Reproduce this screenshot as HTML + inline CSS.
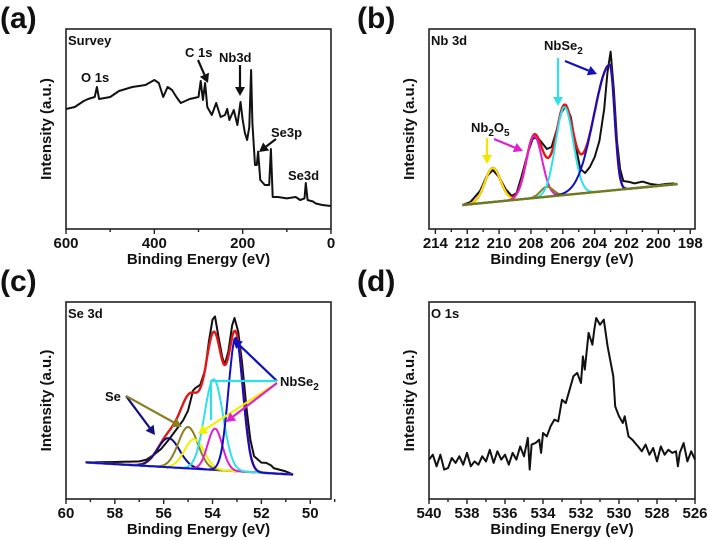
<!DOCTYPE html>
<html><head><meta charset="utf-8"><style>
html,body{margin:0;padding:0;background:#fff;}
svg{display:block;font-family:"Liberation Sans",sans-serif;}
.t{font-weight:bold;fill:#111;}
</style></head><body>
<svg id="fig" width="708" height="540" viewBox="0 0 708 540" xmlns="http://www.w3.org/2000/svg"></svg>
<script>
// ---- Panel (a) survey data: binding energy (eV) and intensity (% of frame)
const surveyE = [600,580,560,550,535,530,525,500,480,450,420,400,390,380,370,360,350,340,320,300,295,290,285,280,270,260,250,240,235,230,220,212,205,200,195,190,185,181,178,172,168,165,160,150,140,136,132,120,100,80,70,60,57,53,40,35,20,0];
const surveyI = [60,61,64,65,66,71,65,66,69,71,72,74.5,73,66,71,69.5,66,63,65,66,74,64.5,73,61,57,63,56,57,60,54.5,59.5,52,63.5,54.5,48,44.5,51,79.5,53,32,32,38.7,24.5,22,22,40,16,16,15.3,16,14.5,15.3,23,14.5,13.7,12.8,12,11.5];
const surveyTicks = [600,500,400,300,200,100,0];
const surveyTickLabels = ["600","","400","","200","","0"];
// ---- Panel (b) Nb 3d
const nbE = [212.3,211.8,211.2,210.8,210.4,210.0,209.6,209.2,208.9,208.6,208.2,207.9,207.6,207.3,207.0,206.7,206.4,206.1,205.8,205.5,205.2,204.9,204.6,204.3,204.0,203.7,203.4,203.2,203.0,202.8,202.6,202.4,202.2,201.8,201.5,201.0,200.5,200.0,199.5,199.0];
const nbI = [12,13.5,19,26,29.5,26,20,16.5,18,26,38,45,46,43,40,41,49,58,62,56,42,30,28,31,36,44,60,78,88.7,70,44,30,24,23.5,22.8,23.7,22.5,22,22.5,22.8];
const nbBase = [[212.3,12],[198.8,22.5]];
const nbCenters = [210.4,207.8,207.0,205.9,203.05];
const nbHeights = [17,31,5,44,63];
const nbSigL = [0.5,0.5,0.4,0.55,1.0];
const nbSigR = [0.5,0.5,0.4,0.55,0.3];
const nbColors = ["#f2e600","#e020d0","#8a7d20","#30e0e8","#1010c0"];
const nbTicks = [214,213,212,211,210,209,208,207,206,205,204,203,202,201,200,199,198];
const nbTickLabels = ["214","","212","","210","","208","","206","","204","","202","","200","","198"];
// ---- Panel (c) Se 3d
const seE = [59.2,58,57,56.7,56.4,56.1,55.8,55.5,55.2,55,54.9,54.8,54.7,54.5,54.3,54.15,54,53.9,53.75,53.6,53.5,53.35,53.2,53.1,52.95,52.8,52.6,52.45,52.3,52.0,51.8,51.6,51.5,51,50.7];
const seI = [18.6,18.8,19.1,20,22.5,25.5,30,35,40,45,50,55,56.3,58,65.7,80,91,92.7,82,72,68.2,75,88,91.9,85,70,45.3,30,21.7,18.5,18.3,17,15.7,14,12.4];
const seBase = [[59.2,18.6],[50.7,12.4]];
const seCenters = [55.8,55.0,54.75,53.9,53.95,53.05];
const seHeights = [14.8,21,15,21,46,67.7];
const seSig = [0.45,0.4,0.4,0.3,0.38,0.3];
const seColors = ["#101080","#8a8020","#f0f000","#e020d0","#30e0e8","#1010c0"];
const seTicks = [60,59,58,57,56,55,54,53,52,51,50,49];
const seTickLabels = ["60","","58","","56","","54","","52","","50",""];
// ---- Panel (d) O 1s
const oE = [540,539.8,539.6,539.4,539.2,539,538.8,538.6,538.4,538.2,538,537.8,537.6,537.4,537.2,537,536.8,536.6,536.4,536.2,536,535.8,535.6,535.4,535.2,535,534.8,534.7,534.6,534.4,534.2,534.1,534,533.8,533.6,533.4,533.2,533,532.8,532.6,532.4,532.2,532,531.9,531.8,531.6,531.4,531.3,531.2,531,530.8,530.6,530.4,530.3,530.2,530,529.8,529.7,529.5,529.3,529,528.8,528.6,528.4,528.2,528,527.8,527.6,527.4,527.2,527,526.9,526.8,526.6,526.4,526.2,526];
const oI = [20,22.5,16.6,22.5,14.9,15.7,20.8,18.3,21.7,17.4,23.4,16.6,19.1,17.4,21.7,19.1,25,18.3,24.2,20,22.5,17.4,23.4,20,26.7,21.7,31,14.9,27.6,28.4,30.1,23.4,33.5,31.8,36.9,40.3,39.4,50.4,48.7,55.5,62.3,64,58.9,72.4,65.7,84.3,78.3,86,91.9,88.5,91,77.5,67.3,62.3,47,42,38.6,42,31.8,30.1,26.7,24.2,27.6,22.5,25.9,19.1,26.7,22.5,25,23.4,24.2,16.6,23.4,28.4,19.1,24.2,20];
const oTicks = [540,539,538,537,536,535,534,533,532,531,530,529,528,527,526];
const oTickLabels = ["540","","538","","536","","534","","532","","530","","528","","526"];

const NS="http://www.w3.org/2000/svg";
const svg=document.getElementById('fig');
function mk(tag,attrs,parent){const e=document.createElementNS(NS,tag);for(const k in attrs)e.setAttribute(k,attrs[k]);(parent||svg).appendChild(e);return e;}
function txt(x,y,s,size,parent,anchor){const e=mk('text',{x:x,y:y,'font-size':size,'text-anchor':anchor||'start',class:'t'},parent);e.textContent=s;return e;}

function panel(name,box,eMax,eMin,ticks,labels,label,labelPos,tag){
  const g=mk('g',{});
  
  
  const sx=e=>box.x0+(eMax-e)/(eMax-eMin)*(box.x1-box.x0);
  const sy=v=>box.y1-v/100*(box.y1-box.y0);
  const fr=mk('rect',{x:box.x0,y:box.y0,width:box.x1-box.x0,height:box.y1-box.y0,fill:'none',stroke:'#222','stroke-width':1.6},g);
  
  
  ticks.forEach((t,i)=>{
    const x=sx(t);const major=labels[i]!=="";
    const tk=mk('line',{x1:x,x2:x,y1:box.y1,y2:box.y1+(major?5:3),stroke:'#222','stroke-width':1.4},g);
    
    
    if(major){const l=txt(x,box.y1+19,labels[i],15,g,'middle');
      
      }
  });
  const xt=txt((box.x0+box.x1)/2,box.y1+35,"Binding Energy (eV)",15,g,'middle');
  
  
  const yc=(box.y0+box.y1)/2;
  const yt=txt(0,0,"Intensity (a.u.)",15,g,'middle');
  yt.setAttribute('transform','translate('+(box.x0-15)+','+yc+') rotate(-90)');
  
  
  const pl=txt(labelPos[0],labelPos[1],label,30,g);
  pl.setAttribute('font-weight','normal');
  
  
  const tg=txt(box.x0+2,box.y0+16,tag,13,g);
  
  
  return {g,sx,sy};
}
function poly(p,E,I,color,w,name){
  const pts=E.map((e,i)=>p.sx(e).toFixed(1)+','+p.sy(I[i]).toFixed(1)).join(' ');
  const l=mk('polyline',{points:pts,fill:'none',stroke:color,'stroke-width':w,'stroke-linejoin':'round'},p.g);
  
  
  return l;
}
function arrow(g,x1,y1,x2,y2,color,name){
  const a=Math.atan2(y2-y1,x2-x1),L=9,W=5;
  const bx=x2-L*Math.cos(a),by=y2-L*Math.sin(a);
  const grp=mk('g',{},g);
  
  
  mk('line',{x1:x1,y1:y1,x2:bx,y2:by,stroke:color,'stroke-width':2.2},grp);
  mk('polygon',{points:x2+','+y2+' '+(bx+W*Math.sin(a))+','+(by-W*Math.cos(a))+' '+(bx-W*Math.sin(a))+','+(by+W*Math.cos(a)),fill:color},grp);
}
function baseAt(base,e){const [a,b]=base;return a[1]+(e-a[0])/(b[0]-a[0])*(b[1]-a[1]);}
function range(a,b,n){const r=[];for(let i=0;i<=n;i++)r.push(a+(b-a)*i/n);return r;}

// ---- (a)
const pa=panel('panel-a-survey',{x0:66,x1:331,y0:29,y1:229},600,0,surveyTicks,surveyTickLabels,'(a)',[0,28],'Survey');
poly(pa,surveyE,surveyI,'#111',2,'survey-spectrum');
[['O 1s',81,82],['C 1s',185,57],['Nb3d',219,62],['Se3p',271,137],['Se3d',288,180]].forEach(l=>{const t=txt(l[1],l[2],l[0],13,pa.g);
  
  });
arrow(pa.g,198,60,208,83,'#111','c1s-arrow');
arrow(pa.g,240,65,240,96,'#111','nb3d-arrow');
arrow(pa.g,276,139,259,152,'#111','se3p-arrow');

// ---- (b)
const pb=panel('panel-b-nb3d',{x0:429,x1:695,y0:29,y1:229},214.4,197.7,nbTicks,nbTickLabels,'(b)',[357,28],'Nb 3d');
const bE=range(212.3,198.8,300);
function nbComp(k,e){const s=e>nbCenters[k]?nbSigL[k]:nbSigR[k];return nbHeights[k]*Math.exp(-Math.pow(e-nbCenters[k],2)/(2*s*s));}
poly(pb,nbE,nbI,'#111',2,'nb3d-data');
poly(pb,bE,bE.map(e=>baseAt(nbBase,e)+nbCenters.reduce((s,c,k)=>s+nbComp(k,e),0)),'#e01818',2.4,'nb3d-envelope');
nbCenters.forEach((c,k)=>poly(pb,bE,bE.map(e=>baseAt(nbBase,e)+nbComp(k,e)),nbColors[k],2,'nb3d-component'));
poly(pb,nbBase.map(p=>p[0]),nbBase.map(p=>p[1]),'#707a20',2.4,'nb3d-baseline');
const t1=txt(471,132,'',13,pb.g);t1.innerHTML='Nb<tspan dy="4" font-size="10">2</tspan><tspan dy="-4">O</tspan><tspan dy="4" font-size="10">5</tspan>';


const t2=txt(544,50,'',13,pb.g);t2.innerHTML='NbSe<tspan dy="4" font-size="10">2</tspan>';


arrow(pb.g,487,138,487,164,'#f2e600','yellow-arrow');
arrow(pb.g,494,139,523,151,'#e020d0','magenta-arrow');
arrow(pb.g,558,58,558,106,'#30e0e8','cyan-arrow');
arrow(pb.g,565,61,597,74,'#1010c0','blue-arrow');

// ---- (c)
const pc=panel('panel-c-se3d',{x0:66,x1:331,y0:302,y1:499},60,49.15,seTicks,seTickLabels,'(c)',[0,291],'Se 3d');
const cE=range(59.2,50.7,300);
function seComp(k,e){return seHeights[k]*Math.exp(-Math.pow(e-seCenters[k],2)/(2*seSig[k]*seSig[k]));}
poly(pc,seE,seI,'#111',2,'se3d-data');
poly(pc,cE,cE.map(e=>baseAt(seBase,e)+seCenters.reduce((s,c,k)=>s+seComp(k,e),0)),'#e01818',2.4,'se3d-envelope');
seCenters.forEach((c,k)=>poly(pc,cE,cE.map(e=>baseAt(seBase,e)+seComp(k,e)),seColors[k],2,'se3d-component'));
const t3=txt(105,401,'Se',13,pc.g);


const t4=txt(280,386,'',13,pc.g);t4.innerHTML='NbSe<tspan dy="4" font-size="10">2</tspan>';


arrow(pc.g,126,396,155,435,'#101080','se-navy-arrow');
arrow(pc.g,126,396,182,427,'#8a8020','se-olive-arrow');
arrow(pc.g,277,381,233,339,'#1010c0','nbse2-blue-arrow');
const cy=mk('polyline',{points:'277,381 211,381 211,420',fill:'none',stroke:'#30e0e8','stroke-width':2.2},pc.g);


arrow(pc.g,277,383,198,434,'#f0f000','nbse2-yellow-arrow');
arrow(pc.g,277,383,226,422,'#e020d0','nbse2-magenta-arrow');

// ---- (d)
const pd=panel('panel-d-o1s',{x0:429,x1:695,y0:302,y1:499},540,526,oTicks,oTickLabels,'(d)',[357,291],'O 1s');
poly(pd,oE,oI,'#111',2,'o1s-spectrum');
</script>
</body></html>
